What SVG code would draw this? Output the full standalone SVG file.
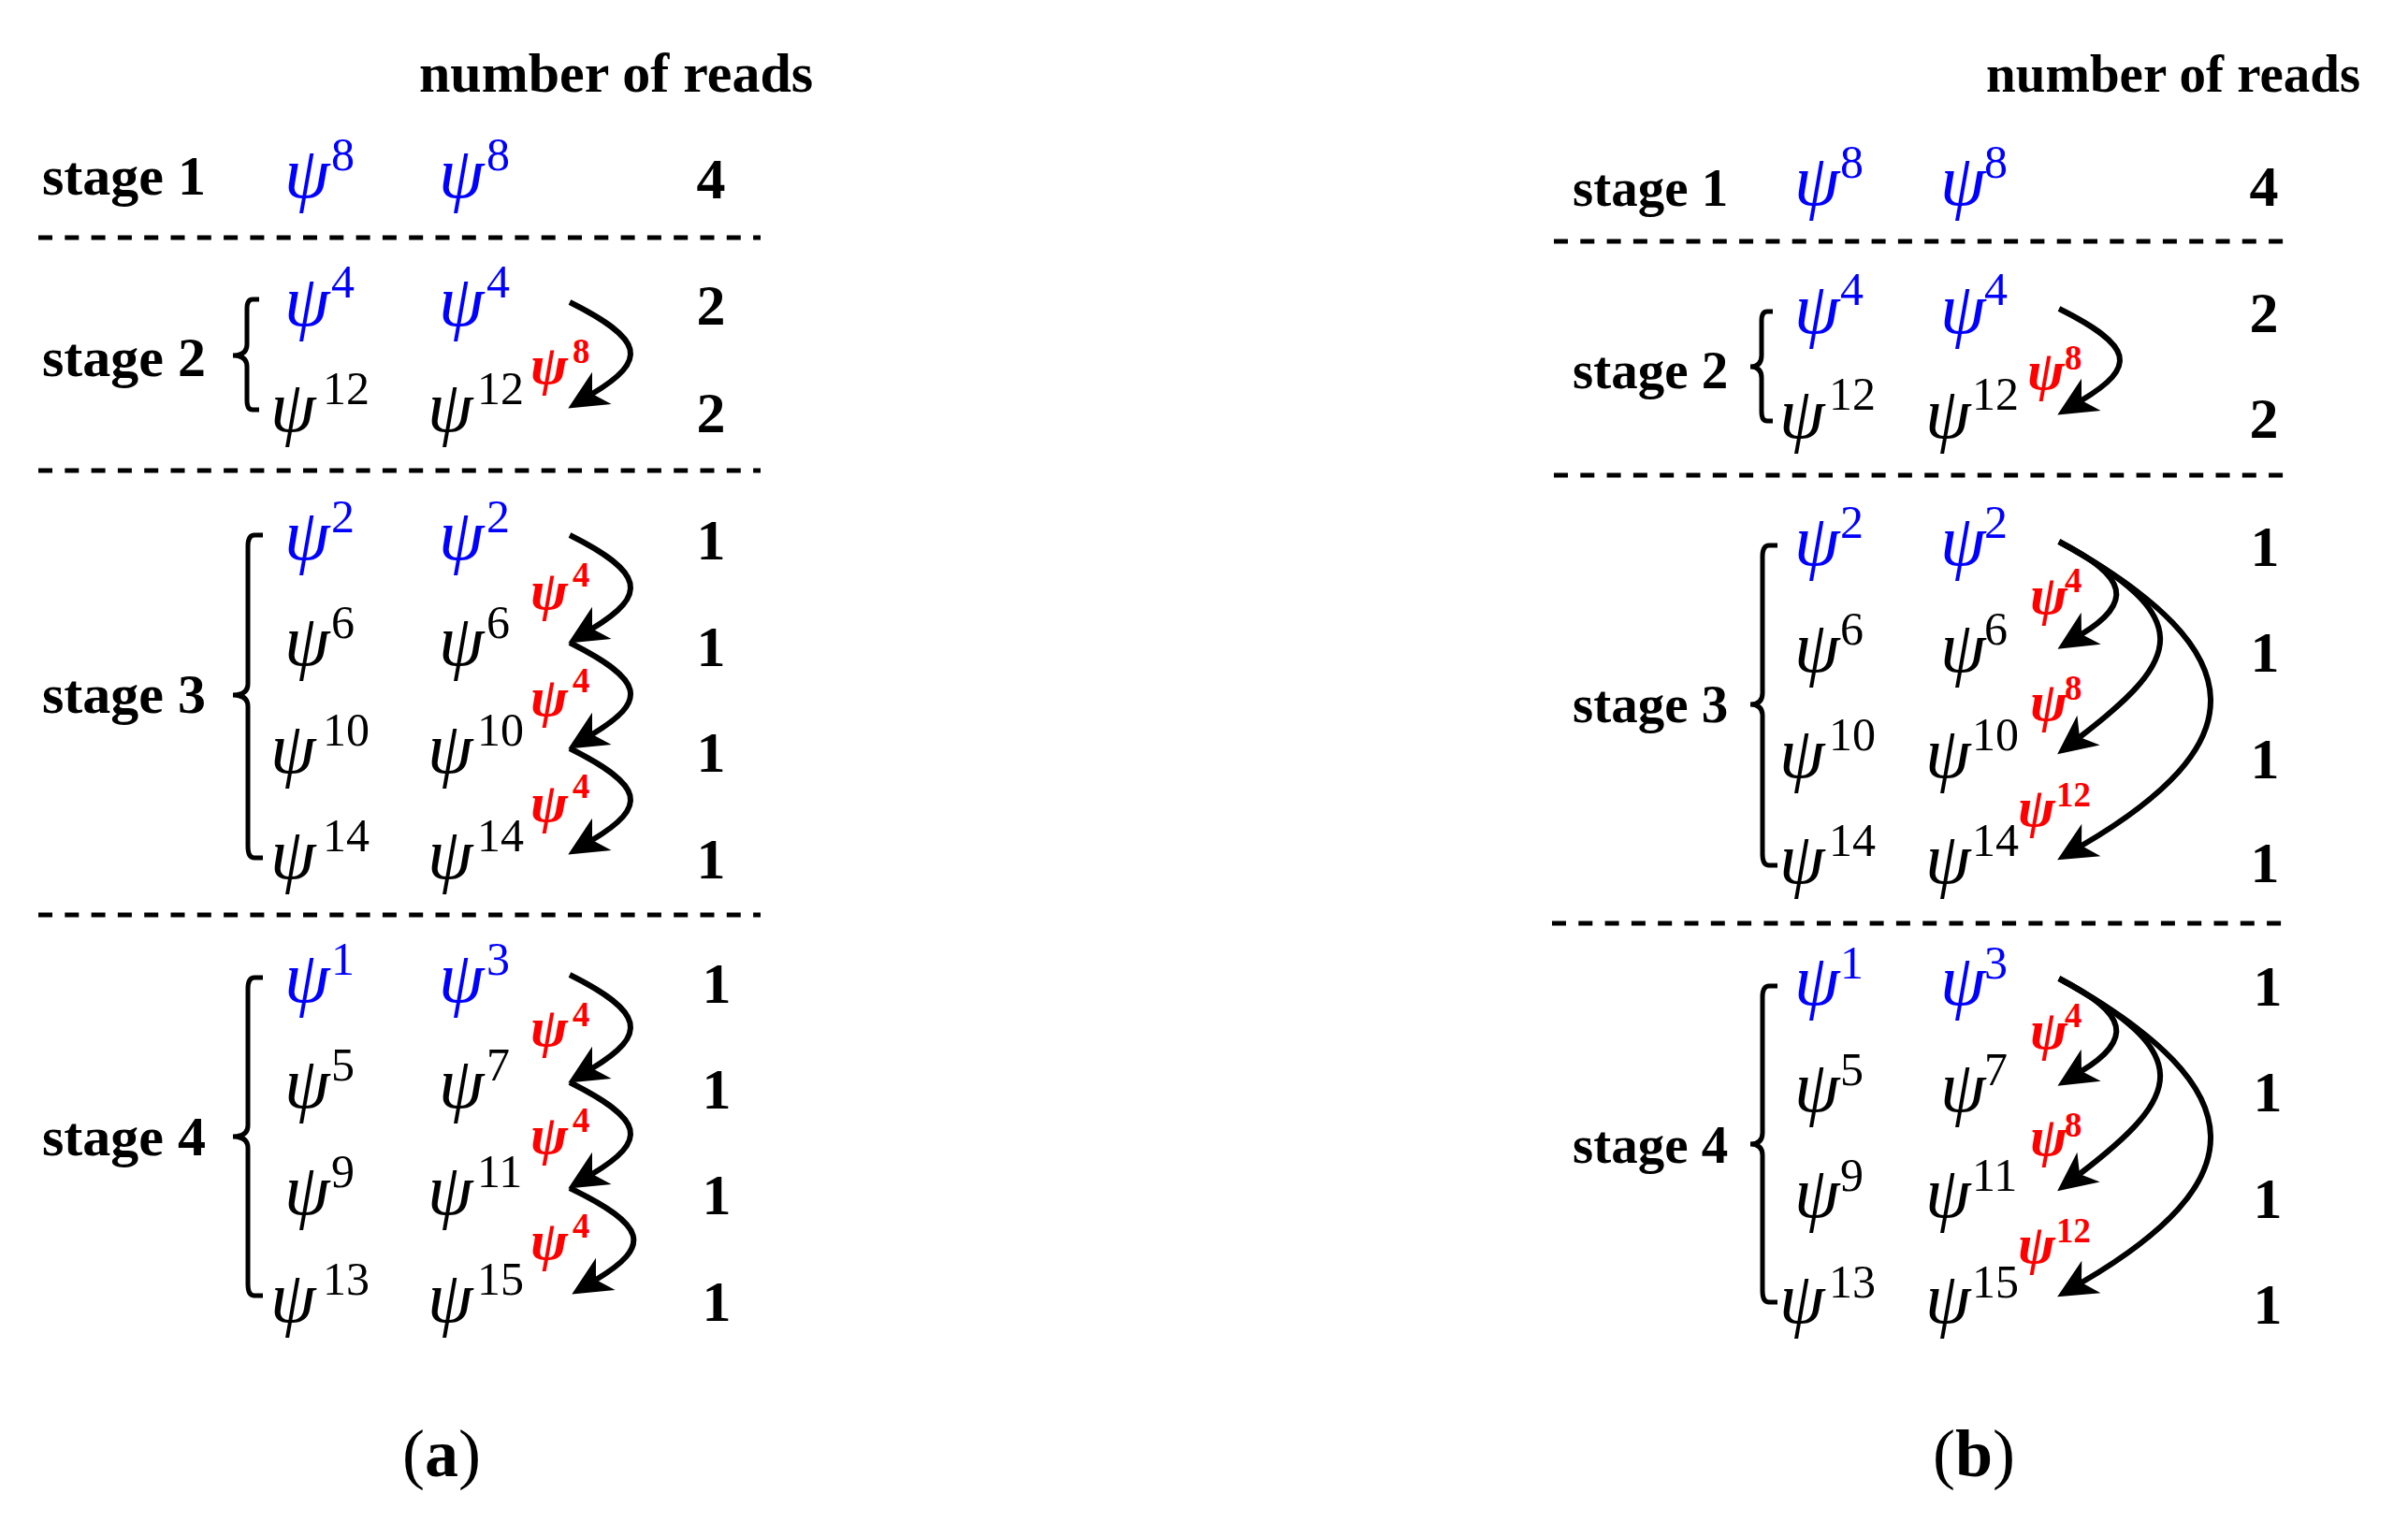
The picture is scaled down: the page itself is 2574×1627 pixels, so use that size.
<svg xmlns="http://www.w3.org/2000/svg" width="2574" height="1627" viewBox="0 0 2574 1627">
<style>
text{font-family:"Liberation Serif","Times New Roman",serif;fill:#000}
.lbl{font-weight:bold;font-size:60px}
.lblb{font-weight:bold;font-size:57px}
.num{font-weight:bold;font-size:62px;text-anchor:middle}
.psi{font-style:italic;font-size:78px}
.sup{font-size:50px}
.rpsi{font-style:italic;font-weight:bold;font-size:60px;fill:#ff0000}
.rsup{font-weight:bold;font-size:37px;fill:#ff0000}
.blue{fill:#0000ff}
.cap{font-size:72px}
.capb{font-weight:bold}
.dash{stroke:#000;stroke-width:5;stroke-dasharray:15 13.3;fill:none}
.brace{fill:none;stroke:#000;stroke-width:5}
.arc{fill:none;stroke:#000;stroke-width:6;marker-end:url(#ah)}
</style>
<defs>
<marker id="ah" markerUnits="userSpaceOnUse" viewBox="-20 -30 60 60" markerWidth="60" markerHeight="60" refX="0" refY="0" orient="auto" overflow="visible">
<path d="M30,0 L-12,-20 L0,0 L-12,20 Z" fill="#000"/>
</marker>
</defs>
<rect width="2574" height="1627" fill="#fff"/>

<!-- ================= Panel (a) ================= -->
<g id="a-header"><text class="lbl" x="448" y="98">number of reads</text></g>
<g id="a-dividers">
<line class="dash" x1="41" y1="254" x2="813" y2="254"/>
<line class="dash" x1="41" y1="503" x2="813" y2="503"/>
<line class="dash" x1="41" y1="978" x2="813" y2="978"/>
</g>

<g id="a-stage1">
<text class="lbl" x="45" y="208">stage 1</text>
<g id="a-s1-c1"><text class="psi blue" x="304" y="211">ψ</text><text class="sup blue" x="354" y="182">8</text></g>
<g id="a-s1-c2"><text class="psi blue" x="469" y="211">ψ</text><text class="sup blue" x="520" y="182">8</text></g>
<text class="num" x="760" y="212">4</text>
</g>

<g id="a-stage2">
<text class="lbl" x="45" y="402">stage 2</text>
<path class="brace" d="M277,320 L270,320 Q264,320 264,330 L264,368 Q264,380 249,380 Q264,380 264,392 L264,428 Q264,438 270,438 L277,438"/>
<g id="a-s2-r1-c1"><text class="psi blue" x="304" y="348">ψ</text><text class="sup blue" x="354" y="318">4</text></g>
<g id="a-s2-r1-c2"><text class="psi blue" x="469" y="348">ψ</text><text class="sup blue" x="520" y="318">4</text></g>
<g id="a-s2-r2-c1"><text class="psi" x="289" y="461">ψ</text><text class="sup" x="345" y="432">12</text></g>
<g id="a-s2-r2-c2"><text class="psi" x="457" y="461">ψ</text><text class="sup" x="510" y="432">12</text></g>
<text class="num" x="760" y="347">2</text>
<text class="num" x="760" y="462">2</text>
</g>

<g id="a-stage3">
<text class="lbl" x="45" y="762">stage 3</text>
<path class="brace" d="M281,572 L272,572 Q265,572 265,584 L265,731 Q265,743 249,743 Q265,743 265,755 L265,905 Q265,917 272,917 L281,917"/>
<g id="a-s3-r1-c1"><text class="psi blue" x="304" y="598">ψ</text><text class="sup blue" x="354" y="569">2</text></g>
<g id="a-s3-r1-c2"><text class="psi blue" x="469" y="598">ψ</text><text class="sup blue" x="520" y="569">2</text></g>
<g id="a-s3-r2-c1"><text class="psi" x="304" y="711">ψ</text><text class="sup" x="354" y="682">6</text></g>
<g id="a-s3-r2-c2"><text class="psi" x="469" y="711">ψ</text><text class="sup" x="520" y="682">6</text></g>
<g id="a-s3-r3-c1"><text class="psi" x="289" y="826">ψ</text><text class="sup" x="345" y="797">10</text></g>
<g id="a-s3-r3-c2"><text class="psi" x="457" y="826">ψ</text><text class="sup" x="510" y="797">10</text></g>
<g id="a-s3-r4-c1"><text class="psi" x="289" y="939">ψ</text><text class="sup" x="345" y="910">14</text></g>
<g id="a-s3-r4-c2"><text class="psi" x="457" y="939">ψ</text><text class="sup" x="510" y="910">14</text></g>
<text class="num" x="760" y="598">1</text>
<text class="num" x="760" y="712">1</text>
<text class="num" x="760" y="825">1</text>
<text class="num" x="760" y="939">1</text>
</g>

<g id="a-stage4">
<text class="lbl" x="45" y="1235">stage 4</text>
<path class="brace" d="M281,1045 L272,1045 Q265,1045 265,1057 L265,1203 Q265,1215 249,1215 Q265,1215 265,1227 L265,1373 Q265,1385 272,1385 L281,1385"/>
<g id="a-s4-r1-c1"><text class="psi blue" x="304" y="1071">ψ</text><text class="sup blue" x="354" y="1042">1</text></g>
<g id="a-s4-r1-c2"><text class="psi blue" x="469" y="1071">ψ</text><text class="sup blue" x="520" y="1042">3</text></g>
<g id="a-s4-r2-c1"><text class="psi" x="304" y="1184">ψ</text><text class="sup" x="354" y="1155">5</text></g>
<g id="a-s4-r2-c2"><text class="psi" x="469" y="1184">ψ</text><text class="sup" x="520" y="1155">7</text></g>
<g id="a-s4-r3-c1"><text class="psi" x="304" y="1298">ψ</text><text class="sup" x="354" y="1269">9</text></g>
<g id="a-s4-r3-c2"><text class="psi" x="457" y="1298">ψ</text><text class="sup" x="510" y="1269">11</text></g>
<g id="a-s4-r4-c1"><text class="psi" x="289" y="1413">ψ</text><text class="sup" x="345" y="1384">13</text></g>
<g id="a-s4-r4-c2"><text class="psi" x="457" y="1413">ψ</text><text class="sup" x="510" y="1384">15</text></g>
<text class="num" x="766" y="1072">1</text>
<text class="num" x="766" y="1185">1</text>
<text class="num" x="766" y="1298">1</text>
<text class="num" x="766" y="1412">1</text>
</g>

<g id="a-shift-labels">
<g id="a-l2"><text class="rpsi" x="567" y="410">ψ</text><text class="rsup" x="612" y="388">8</text></g>
<g id="a-l3a"><text class="rpsi" x="567" y="651">ψ</text><text class="rsup" x="612" y="627">4</text></g>
<g id="a-l3b"><text class="rpsi" x="567" y="765">ψ</text><text class="rsup" x="612" y="740">4</text></g>
<g id="a-l3c"><text class="rpsi" x="567" y="878">ψ</text><text class="rsup" x="612" y="853">4</text></g>
<g id="a-l4a"><text class="rpsi" x="567" y="1118">ψ</text><text class="rsup" x="612" y="1097">4</text></g>
<g id="a-l4b"><text class="rpsi" x="567" y="1233">ψ</text><text class="rsup" x="612" y="1210">4</text></g>
<g id="a-l4c"><text class="rpsi" x="567" y="1346">ψ</text><text class="rsup" x="612" y="1323">4</text></g>
</g>

<g id="a-caption"><text class="cap" x="472" y="1578" text-anchor="middle">(<tspan class="capb">a</tspan>)</text></g>

<!-- ================= Panel (b) ================= -->
<g id="b-header"><text class="lblb" x="2123" y="98">number of reads</text></g>
<g id="b-dividers">
<line class="dash" x1="1661" y1="258" x2="2444" y2="258"/>
<line class="dash" x1="1661" y1="508" x2="2444" y2="508"/>
<line class="dash" x1="1659" y1="987" x2="2442" y2="987"/>
</g>

<g id="b-stage1">
<text class="lblb" x="1681" y="220">stage 1</text>
<g id="b-s1-c1"><text class="psi blue" x="1918" y="219">ψ</text><text class="sup blue" x="1967" y="190">8</text></g>
<g id="b-s1-c2"><text class="psi blue" x="2074" y="219">ψ</text><text class="sup blue" x="2121" y="190">8</text></g>
<text class="num" x="2420" y="220">4</text>
</g>

<g id="b-stage2">
<text class="lblb" x="1681" y="415">stage 2</text>
<path class="brace" d="M1895,333 L1889,333 Q1883,333 1883,343 L1883,380 Q1883,392 1871,392 Q1883,392 1883,404 L1883,440 Q1883,450 1889,450 L1895,450"/>
<g id="b-s2-r1-c1"><text class="psi blue" x="1918" y="356">ψ</text><text class="sup blue" x="1967" y="326">4</text></g>
<g id="b-s2-r1-c2"><text class="psi blue" x="2074" y="356">ψ</text><text class="sup blue" x="2121" y="326">4</text></g>
<g id="b-s2-r2-c1"><text class="psi" x="1902" y="468">ψ</text><text class="sup" x="1955" y="438">12</text></g>
<g id="b-s2-r2-c2"><text class="psi" x="2058" y="468">ψ</text><text class="sup" x="2108" y="438">12</text></g>
<text class="num" x="2420" y="355">2</text>
<text class="num" x="2420" y="468">2</text>
</g>

<g id="b-stage3">
<text class="lblb" x="1681" y="772">stage 3</text>
<path class="brace" d="M1900,583 L1891,583 Q1884,583 1884,595 L1884,741 Q1884,753 1871,753 Q1884,753 1884,765 L1884,913 Q1884,925 1891,925 L1900,925"/>
<g id="b-s3-r1-c1"><text class="psi blue" x="1918" y="604">ψ</text><text class="sup blue" x="1967" y="575">2</text></g>
<g id="b-s3-r1-c2"><text class="psi blue" x="2074" y="604">ψ</text><text class="sup blue" x="2121" y="575">2</text></g>
<g id="b-s3-r2-c1"><text class="psi" x="1918" y="718">ψ</text><text class="sup" x="1967" y="689">6</text></g>
<g id="b-s3-r2-c2"><text class="psi" x="2074" y="718">ψ</text><text class="sup" x="2121" y="689">6</text></g>
<g id="b-s3-r3-c1"><text class="psi" x="1902" y="831">ψ</text><text class="sup" x="1955" y="802">10</text></g>
<g id="b-s3-r3-c2"><text class="psi" x="2058" y="831">ψ</text><text class="sup" x="2108" y="802">10</text></g>
<g id="b-s3-r4-c1"><text class="psi" x="1902" y="944">ψ</text><text class="sup" x="1955" y="915">14</text></g>
<g id="b-s3-r4-c2"><text class="psi" x="2058" y="944">ψ</text><text class="sup" x="2108" y="915">14</text></g>
<text class="num" x="2421" y="605">1</text>
<text class="num" x="2421" y="718">1</text>
<text class="num" x="2421" y="832">1</text>
<text class="num" x="2421" y="943">1</text>
</g>

<g id="b-stage4">
<text class="lblb" x="1681" y="1243">stage 4</text>
<path class="brace" d="M1900,1054 L1891,1054 Q1884,1054 1884,1066 L1884,1211 Q1884,1223 1871,1223 Q1884,1223 1884,1235 L1884,1380 Q1884,1392 1891,1392 L1900,1392"/>
<g id="b-s4-r1-c1"><text class="psi blue" x="1918" y="1074">ψ</text><text class="sup blue" x="1967" y="1046">1</text></g>
<g id="b-s4-r1-c2"><text class="psi blue" x="2074" y="1074">ψ</text><text class="sup blue" x="2121" y="1046">3</text></g>
<g id="b-s4-r2-c1"><text class="psi" x="1918" y="1188">ψ</text><text class="sup" x="1967" y="1160">5</text></g>
<g id="b-s4-r2-c2"><text class="psi" x="2074" y="1188">ψ</text><text class="sup" x="2121" y="1160">7</text></g>
<g id="b-s4-r3-c1"><text class="psi" x="1918" y="1301">ψ</text><text class="sup" x="1967" y="1273">9</text></g>
<g id="b-s4-r3-c2"><text class="psi" x="2058" y="1301">ψ</text><text class="sup" x="2108" y="1273">11</text></g>
<g id="b-s4-r4-c1"><text class="psi" x="1902" y="1414">ψ</text><text class="sup" x="1955" y="1387">13</text></g>
<g id="b-s4-r4-c2"><text class="psi" x="2058" y="1414">ψ</text><text class="sup" x="2108" y="1387">15</text></g>
<text class="num" x="2424" y="1075">1</text>
<text class="num" x="2424" y="1188">1</text>
<text class="num" x="2424" y="1302">1</text>
<text class="num" x="2424" y="1415">1</text>
</g>

<g id="b-shift-labels">
<g id="b-l2"><text class="rpsi" x="2167" y="416">ψ</text><text class="rsup" x="2207" y="395">8</text></g>
<g id="b-l3a"><text class="rpsi" x="2170" y="656">ψ</text><text class="rsup" x="2207" y="633">4</text></g>
<g id="b-l3b"><text class="rpsi" x="2170" y="770">ψ</text><text class="rsup" x="2207" y="748">8</text></g>
<g id="b-l3c"><text class="rpsi" x="2157" y="883">ψ</text><text class="rsup" x="2198" y="862">12</text></g>
<g id="b-l4a"><text class="rpsi" x="2170" y="1121">ψ</text><text class="rsup" x="2207" y="1098">4</text></g>
<g id="b-l4b"><text class="rpsi" x="2170" y="1235">ψ</text><text class="rsup" x="2207" y="1215">8</text></g>
<g id="b-l4c"><text class="rpsi" x="2157" y="1350">ψ</text><text class="rsup" x="2198" y="1328">12</text></g>
</g>

<g id="b-caption"><text class="cap" x="2110" y="1578" text-anchor="middle">(<tspan class="capb">b</tspan>)</text></g>

<!-- ================= Connectors ================= -->
<g id="connectors">
<path class="arc" d="M609,323 C689,363 693,385 633,421"/>
<path class="arc" d="M609,572 C689,612 693,636 633,672"/>
<path class="arc" d="M609,687 C689,727 693,749 633,785"/>
<path class="arc" d="M609,800 C689,840 693,862 633,898"/>
<path class="arc" d="M609,1042 C689,1082 693,1106 633,1142"/>
<path class="arc" d="M609,1157 C689,1197 693,1219 633,1255"/>
<path class="arc" d="M609,1270 C692,1310 697,1332 637,1368"/>
<path class="arc" d="M2201,330 C2281,370 2285,392 2225,428"/>
<path class="arc" d="M2201,579 C2276,617 2280,644 2225,678"/>
<path class="arc" d="M2201,579 C2350,660 2333,704 2223,788"/>
<path class="arc" d="M2201,579 C2420,700 2406,798 2225,904"/>
<path class="arc" d="M2201,1046 C2276,1084 2280,1111 2225,1145"/>
<path class="arc" d="M2201,1046 C2350,1127 2333,1171 2223,1255"/>
<path class="arc" d="M2201,1046 C2420,1167 2406,1265 2225,1371"/>
</g>
</svg>
